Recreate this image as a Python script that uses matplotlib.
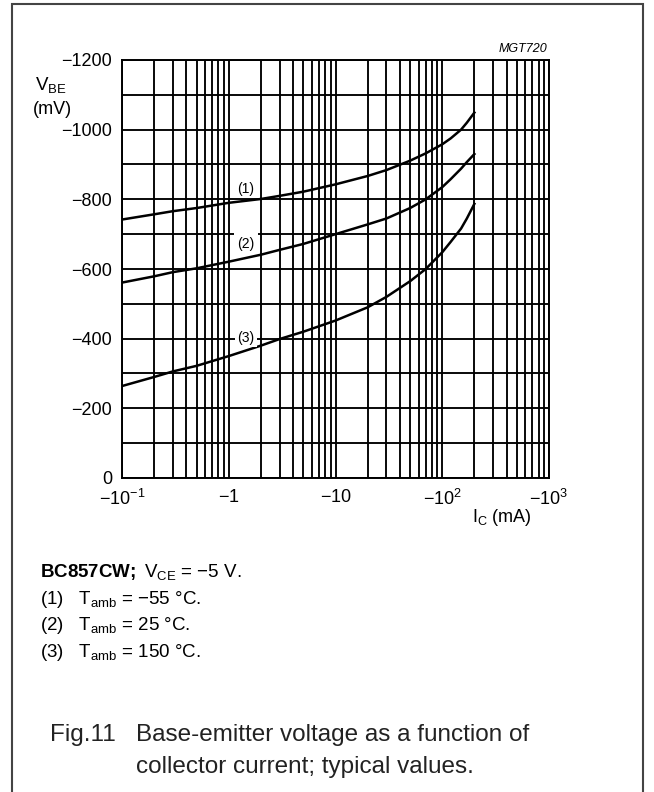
import matplotlib
matplotlib.use("Agg")
import matplotlib.pyplot as plt
from matplotlib.patches import Rectangle
from matplotlib.ticker import FixedLocator, FixedFormatter, NullFormatter

plt.rcParams['font.family'] = ['Liberation Sans', 'DejaVu Sans']
plt.rcParams['mathtext.fontset'] = 'custom'
plt.rcParams['mathtext.rm'] = 'Liberation Sans'
plt.rcParams['mathtext.it'] = 'Liberation Sans:italic'
plt.rcParams['mathtext.bf'] = 'Liberation Sans:bold'

# collector current magnitude (mA)
ic = [0.1, 0.2, 0.3, 0.5, 1, 2, 3, 5, 10, 20, 30, 50, 70, 100, 120, 150, 170, 200]
# base-emitter voltage (mV)
vbe_m55 = [-742, -757, -766, -775, -790, -801, -810, -822, -843, -867, -884, -911,
           -932, -958, -975, -1000, -1020, -1049]
vbe_25 = [-561, -579, -591, -602, -621, -641, -655, -672, -700, -728, -745, -775,
          -800, -835, -858, -888, -907, -930]
vbe_150 = [-264, -290, -306, -322, -350, -380, -399, -420, -452, -490, -520, -565,
           -600, -648, -678, -716, -745, -787]

x_major = [0.1, 1, 10, 100, 1000]
x_labels = [r'$-10^{-1}$', r'$-1$', r'$-10$', r'$-10^{2}$', r'$-10^{3}$']
y_major = [0, -200, -400, -600, -800, -1000, -1200]
y_labels = ['0', '−200', '−400', '−600', '−800', '−1000', '−1200']

W, H = 654, 792
fig = plt.figure(figsize=(W / 100, H / 100), dpi=100)

def fx(px):
    return px / W

def fy(py):
    return 1 - py / H

ax = fig.add_axes([fx(122), fy(478), fx(549) - fx(122), fy(60) - fy(478)])
ax.set_xscale('log')
ax.set_xlim(0.1, 1000)
ax.set_ylim(0, -1200)

for v in [vbe_m55, vbe_25, vbe_150]:
    ax.plot(ic, v, color='black', lw=1.8, zorder=3)

ax.xaxis.set_major_locator(FixedLocator(x_major))
ax.xaxis.set_major_formatter(FixedFormatter(x_labels))
minors = [m * 10.0 ** e for e in range(-1, 3) for m in range(2, 10)]
ax.xaxis.set_minor_locator(FixedLocator(minors))
ax.xaxis.set_minor_formatter(NullFormatter())
ax.yaxis.set_major_locator(FixedLocator(y_major))
ax.yaxis.set_major_formatter(FixedFormatter(y_labels))
ax.yaxis.set_minor_locator(FixedLocator(list(range(-100, -1200, -200))))

ax.grid(True, which='both', color='black', lw=1.35, zorder=1)
ax.tick_params(which='both', length=0, labelsize=13)
ax.tick_params(axis='x', pad=8)
ax.tick_params(axis='y', pad=7)
for s in ax.spines.values():
    s.set_linewidth(1.4)

# curve labels
ax.text(1.45, -830, '(1)', fontsize=10, ha='center', va='center', zorder=4)
ax.text(1.45, -672, '(2)', fontsize=10, ha='center', va='center', zorder=4,
        bbox=dict(facecolor='white', edgecolor='none', pad=2.5))
ax.text(1.45, -403, '(3)', fontsize=10, ha='center', va='center', zorder=4,
        bbox=dict(facecolor='white', edgecolor='none', pad=1.5))

# axis titles
fig.text(fx(35), fy(85), r'V$_{\rm BE}$', fontsize=13.5, va='center')
fig.text(fx(33), fy(110), '(mV)', fontsize=13, va='center')
fig.text(fx(532), fy(517), r'I$_{\rm C}$ (mA)', fontsize=13, ha='right', va='center')
fig.text(fx(547), fy(49), 'MGT720', fontsize=9, style='italic', ha='right', va='center')

# notes
fig.text(fx(40), fy(577), r'$\mathbf{BC857CW;}$ V$_{\rm CE}$ = −5 V.', fontsize=13.5, va='baseline')
fig.text(fx(40), fy(604), r'(1)   T$_{\rm amb}$ = −55 °C.', fontsize=13.5, va='baseline')
fig.text(fx(40), fy(630), r'(2)   T$_{\rm amb}$ = 25 °C.', fontsize=13.5, va='baseline')
fig.text(fx(40), fy(657), r'(3)   T$_{\rm amb}$ = 150 °C.', fontsize=13.5, va='baseline')

fig.text(fx(50), fy(741), 'Fig.11', fontsize=17.5, va='baseline', color='#222222')
fig.text(fx(136), fy(741), 'Base-emitter voltage as a function of', fontsize=17.5,
         va='baseline', color='#222222')
fig.text(fx(136), fy(773), 'collector current; typical values.', fontsize=17.5,
         va='baseline', color='#222222')

# outer frame
fig.patches.append(Rectangle((fx(12), -0.05), fx(643) - fx(12), fy(4) + 0.05,
                             transform=fig.transFigure, fill=False,
                             edgecolor='#444444', lw=1.5))

fig.savefig('out.png', dpi=100)
